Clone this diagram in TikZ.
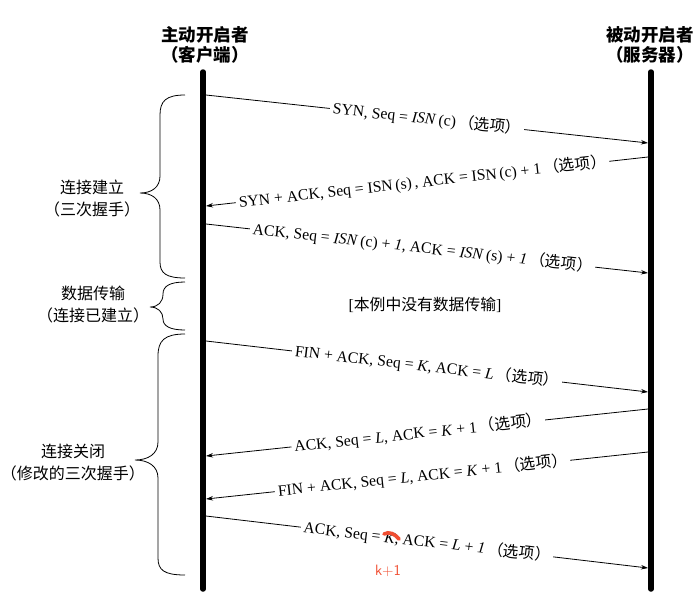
\documentclass[tikz,border=0pt]{standalone}
\usepackage{fontspec}
\setmainfont{Liberation Serif}
\newfontfamily\cjk{Noto Sans CJK SC}
\usetikzlibrary{arrows.meta}
\definecolor{fixred}{RGB}{240,78,50}
\begin{document}
\begin{tikzpicture}[x=1pt,y=-1pt,
  life/.style={line width=5.5pt, line cap=round},
  msg/.style={line width=0.8pt, -{Stealth[length=7pt,width=4.5pt]}},
  lbl/.style={fill=white, inner sep=3pt, sloped, font=\fontsize{15.7}{18}\selectfont},
  head/.style={font=\cjk\bfseries\fontsize{17.5}{20}\selectfont, align=center},
  phase/.style={font=\cjk\fontsize{16}{22}\selectfont, align=center},
  brace/.style={line width=0.8pt}]
\useasboundingbox (0,0) rectangle (698,603);

% headers
\node[head] (hc) at (205,45) {主动开启者\\（客户端）};
\node[head] (hs) at (650,45) {被动开启者\\（服务器）};

% lifelines
\coordinate (ctop) at (203,72);
\coordinate (cbot) at (203,589);
\coordinate (stop) at (651,72);
\coordinate (sbot) at (651,589);
\draw[life] (ctop) -- (cbot);
\draw[life] (stop) -- (sbot);

% message end points
\coordinate (c1) at (206,95);  \coordinate (s1) at (648,143);
\coordinate (s2) at (648,157); \coordinate (c2) at (206,206);
\coordinate (c3) at (206,224); \coordinate (s3) at (648,273);
\coordinate (c5) at (206,341); \coordinate (s5) at (648,392);
\coordinate (s6) at (648,409); \coordinate (c6) at (206,456);
\coordinate (s7) at (648,452); \coordinate (c7) at (206,499);
\coordinate (c8) at (206,516); \coordinate (s8) at (648,568);

\draw[msg] (c1) -- node[lbl,pos=0.5] (m1) {SYN, Seq = \textit{ISN}\,(c)\,{\cjk（选项）}} (s1);
\draw[msg] (s2) -- node[lbl,pos=0.51] (m2) {SYN + ACK, Seq = ISN\,(s)\,, ACK = ISN\,(c) + 1\,{\cjk（选项）}} (c2);
\draw[msg] (c3) -- node[lbl,pos=0.49] (m3) {ACK, Seq = \textit{ISN}\,(c) + \textit{1}, ACK = \textit{ISN}\,(s) + \textit{1}\,{\cjk（选项）}} (s3);

\node[font=\fontsize{15.8}{18}\selectfont] (nodata) at (425,305) {[{\cjk 本例中没有数据传输}]};

\draw[msg] (c5) -- node[lbl,pos=0.5] (m5) {FIN + ACK, Seq = \textit{K}, ACK = \textit{L}\,{\cjk（选项）}} (s5);
\draw[msg] (s6) -- node[lbl,pos=0.52] (m6) {ACK, Seq = \textit{L}, ACK = \textit{K} + 1\,{\cjk（选项）}} (c6);
\draw[msg] (s7) -- node[lbl,pos=0.51] (m7) {FIN + ACK, Seq = \textit{L}, ACK = \textit{K} + 1\,{\cjk（选项）}} (c7);
\draw[msg] (c8) -- node[lbl,pos=0.5] (m8) {ACK, Seq = \textit{K}, ACK = \textit{L} + \textit{1}\,{\cjk（选项）}} (s8);

% red correction
\coordinate (r1) at (384,534);
\coordinate (r2) at (399,539);
\draw[fixred, line width=3.6pt, line cap=round] (r1) .. controls (389,531) and (395,534) .. (r2);
\node[text=fixred, font=\sffamily\fontsize{15}{18}\selectfont] (kp1) at (388,571) {k+1};

% braces
\draw[brace] (185,95) .. controls (166,95) and (160,101) .. (160,115) -- (160,176)
  .. controls (160,187) and (152,193) .. (140,193)
  .. controls (152,193) and (160,199) .. (160,210) -- (160,262)
  .. controls (160,273) and (166,278) .. (185,278);
\draw[brace] (185,282) .. controls (170,282) and (163,286) .. (163,294)
  .. controls (163,302) and (158,307) .. (150,307)
  .. controls (158,307) and (163,312) .. (163,319)
  .. controls (163,326) and (170,330) .. (185,330);
\draw[brace] (185,334) .. controls (164,334) and (158,341) .. (158,356) -- (158,442)
  .. controls (158,454) and (148,460) .. (135,460)
  .. controls (148,460) and (158,466) .. (158,478) -- (158,558)
  .. controls (158,570) and (164,575) .. (185,575);

% phase labels
\node[phase] (p1) at (92,198) {连接建立\\（三次握手）};
\node[phase] (p2) at (93,305) {数据传输\\（连接已建立）};
\node[phase] (p3) at (73,463) {连接关闭\\（修改的三次握手）};
\end{tikzpicture}
\end{document}
